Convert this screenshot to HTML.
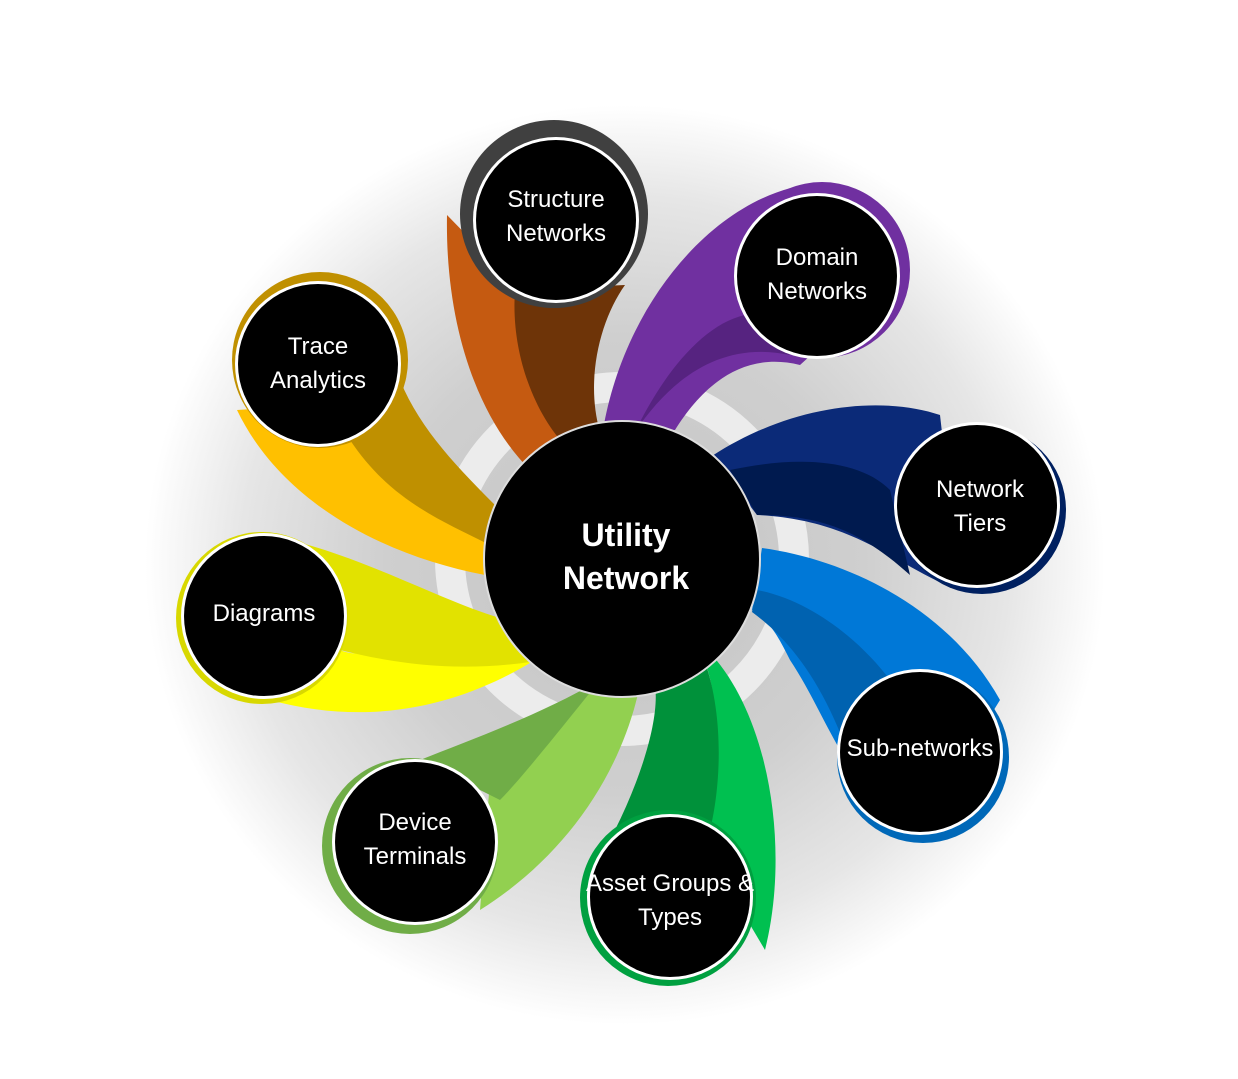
<!DOCTYPE html>
<html><head><meta charset="utf-8"><style>
html,body{margin:0;padding:0;background:#fff;}
svg{display:block;}
text{font-family:"Liberation Sans",sans-serif;fill:#fff;}
</style></head><body>
<svg width="1238" height="1079" viewBox="0 0 1238 1079">
<defs>
<radialGradient id="sh" cx="50%" cy="50%" r="50%">
<stop offset="0" stop-color="#c4c4c4"/><stop offset="0.5" stop-color="#cfcfcf"/><stop offset="0.8" stop-color="#e6e6e6"/><stop offset="1" stop-color="#fff"/>
</radialGradient>
</defs>
<ellipse cx="625" cy="565" rx="480" ry="460" fill="url(#sh)"/>
<circle cx="622" cy="559" r="172" fill="none" stroke="#ececec" stroke-width="30"/>

<!-- Structure -->
<path d="M447,215 C445,330 480,420 530,470 L575,440 C540,400 515,330 520,290 Z" fill="#c55a11"/>
<path d="M515,290 C510,360 540,420 565,445 L600,432 C585,380 600,320 625,285 Z" fill="#6e3408"/>
<!-- Domain -->
<path d="M603,430 C625,300 720,190 820,183 C880,185 905,230 905,270 L800,365 C740,350 700,390 675,430 Z" fill="#7030a0"/>
<path d="M635,432 C670,380 720,340 790,355 L745,315 C700,325 660,380 635,432 Z" fill="#562380"/>
<!-- Network Tiers -->
<path d="M712,456 C790,405 880,395 940,415 L960,590 C900,570 860,520 757,515 Z" fill="#0b2a78"/>
<path d="M730,470 C800,455 860,460 890,490 L910,575 C860,530 820,515 757,515 Z" fill="#001a4f"/>
<!-- Sub-networks -->
<path d="M762,548 C850,560 950,610 1000,700 L920,830 C850,800 830,720 790,660 C780,640 770,620 752,610 Z" fill="#0078d7"/>
<path d="M757,590 C810,600 860,640 890,680 L845,745 C820,680 790,640 752,612 Z" fill="#0062b0"/>
<!-- Asset -->
<path d="M712,655 C770,720 790,850 765,950 L700,840 C720,780 720,700 705,662 Z" fill="#00c050"/>
<path d="M705,662 C725,720 720,790 710,830 L615,830 C640,780 660,720 655,685 Z" fill="#00913a"/>
<!-- Device -->
<path d="M640,685 C620,780 560,860 480,910 L490,780 C540,740 580,700 595,685 Z" fill="#92d050"/>
<path d="M600,680 C560,730 520,780 500,800 L420,760 C470,740 540,715 600,680 Z" fill="#70ad47"/>
<!-- Diagrams -->
<path d="M270,700 C380,730 470,700 535,660 L500,620 C420,650 360,660 340,650 Z" fill="#ffff00"/>
<path d="M290,540 C370,560 440,600 500,618 L530,662 C460,672 400,665 340,650 Z" fill="#e2e200"/>
<!-- Trace -->
<path d="M237,410 C280,500 380,555 485,575 L495,530 C440,490 400,440 390,400 Z" fill="#ffc000"/>
<path d="M350,440 C390,500 440,520 490,545 L500,510 C460,470 420,430 400,380 Z" fill="#bf9000"/>

<circle cx="622" cy="559" r="138" fill="#000" stroke="#ddd" stroke-width="2"/>
<text x="626" y="546" font-size="32" font-weight="bold" text-anchor="middle">Utility</text>
<text x="626" y="589" font-size="32" font-weight="bold" text-anchor="middle">Network</text>

<g>
<circle cx="554" cy="214" r="94" fill="#404040"/><circle cx="556" cy="220" r="83" fill="#fff"/><circle cx="556" cy="220" r="80" fill="#000"/>
<text x="556" y="207" font-size="24" text-anchor="middle">Structure</text><text x="556" y="241" font-size="24" text-anchor="middle">Networks</text>

<circle cx="822" cy="270" r="88" fill="#7030a0"/><circle cx="817" cy="276" r="83" fill="#fff"/><circle cx="817" cy="276" r="80" fill="#000"/>
<text x="817" y="265" font-size="24" text-anchor="middle">Domain</text><text x="817" y="299" font-size="24" text-anchor="middle">Networks</text>

<circle cx="982" cy="510" r="84" fill="#002060"/><circle cx="977" cy="505" r="83" fill="#fff"/><circle cx="977" cy="505" r="80" fill="#000"/>
<text x="980" y="497" font-size="24" text-anchor="middle">Network</text><text x="980" y="531" font-size="24" text-anchor="middle">Tiers</text>

<circle cx="923" cy="757" r="86" fill="#0068b8"/><circle cx="920" cy="752" r="83" fill="#fff"/><circle cx="920" cy="752" r="80" fill="#000"/>
<text x="920" y="756" font-size="24" text-anchor="middle">Sub-networks</text>

<circle cx="668" cy="898" r="88" fill="#00a040"/><circle cx="670" cy="897" r="83" fill="#fff"/><circle cx="670" cy="897" r="80" fill="#000"/>
<text x="670" y="891" font-size="24" text-anchor="middle">Asset Groups &amp;</text><text x="670" y="925" font-size="24" text-anchor="middle">Types</text>

<circle cx="410" cy="846" r="88" fill="#70ad47"/><circle cx="415" cy="842" r="83" fill="#fff"/><circle cx="415" cy="842" r="80" fill="#000"/>
<text x="415" y="830" font-size="24" text-anchor="middle">Device</text><text x="415" y="864" font-size="24" text-anchor="middle">Terminals</text>

<circle cx="262" cy="618" r="86" fill="#d8d800"/><circle cx="264" cy="616" r="83" fill="#fff"/><circle cx="264" cy="616" r="80" fill="#000"/>
<text x="264" y="621" font-size="24" text-anchor="middle">Diagrams</text>

<circle cx="320" cy="360" r="88" fill="#c09000"/><circle cx="318" cy="364" r="83" fill="#fff"/><circle cx="318" cy="364" r="80" fill="#000"/>
<text x="318" y="354" font-size="24" text-anchor="middle">Trace</text><text x="318" y="388" font-size="24" text-anchor="middle">Analytics</text>
</g>
</svg>
</body></html>
